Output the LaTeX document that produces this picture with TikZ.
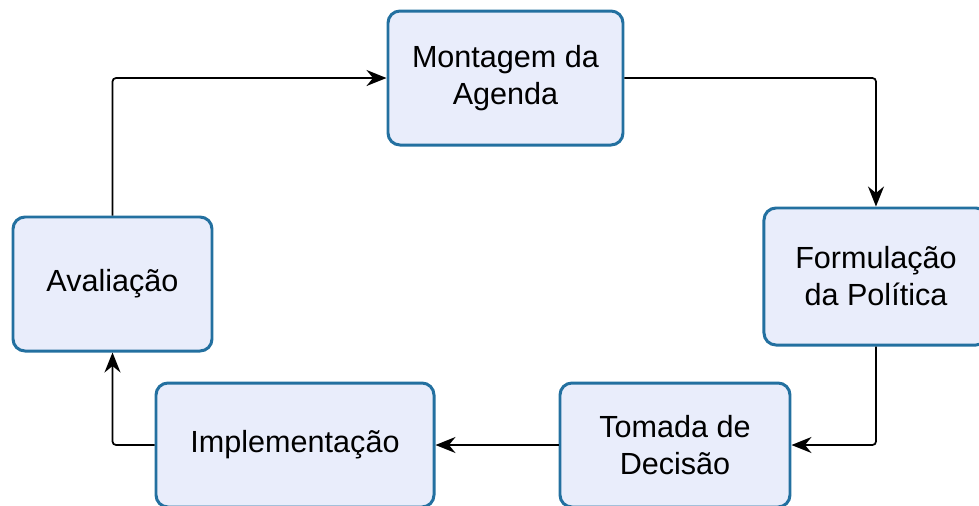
\documentclass[tikz,border=0pt]{standalone}
\usepackage{fontspec}
\setmainfont{Liberation Sans}
\usepackage{tikz}
\usetikzlibrary{arrows.meta,positioning}
\definecolor{boxfill}{RGB}{233,237,251}
\definecolor{boxline}{RGB}{35,112,160}
\tikzstyle{stage} = [draw=boxline, line width=1.7pt, fill=boxfill, text=black,
align=center, rounded corners=0.24cm, inner sep=0pt,
font=\fontsize{17.4}{21}\selectfont]
\tikzstyle{tedge}  = [draw, line width=1pt, rounded corners=2pt, -{Stealth[length=0.4cm,width=0.32cm]}]

\begin{document}
\begin{tikzpicture}[auto]
\useasboundingbox (0,0) rectangle (19.58,-10.1);

\node[stage, minimum width=3.98cm, minimum height=2.68cm] (avaliacao) at (2.25,-5.68) {Avalia\c{c}\~ao};
\node[stage, minimum width=4.7cm, minimum height=2.68cm, above right=1.38cm and 3.46cm of avaliacao] (montagem) {Montagem da\\Agenda};
\node[stage, minimum width=4.48cm, minimum height=2.74cm, below right=1.2cm and 2.76cm of montagem] (formulacao) {Formula\c{c}\~ao\\da Pol\'itica};
\node[stage, minimum width=5.56cm, minimum height=2.48cm] (implementacao) at (5.9,-8.9) {Implementa\c{c}\~ao};
\node[stage, minimum width=4.6cm, minimum height=2.48cm, right=2.46cm of implementacao] (tomada) {Tomada de\\Decis\~ao};

\path[tedge] (avaliacao.north) |- (montagem.west);
\path[tedge] (montagem.east) -| (formulacao.north);
\path[tedge] (formulacao.south) |- (tomada.east);
\path[tedge] (tomada.west) -- (implementacao.east);
\path[tedge] (implementacao.west) -| (avaliacao.south);

\end{tikzpicture}
\end{document}
